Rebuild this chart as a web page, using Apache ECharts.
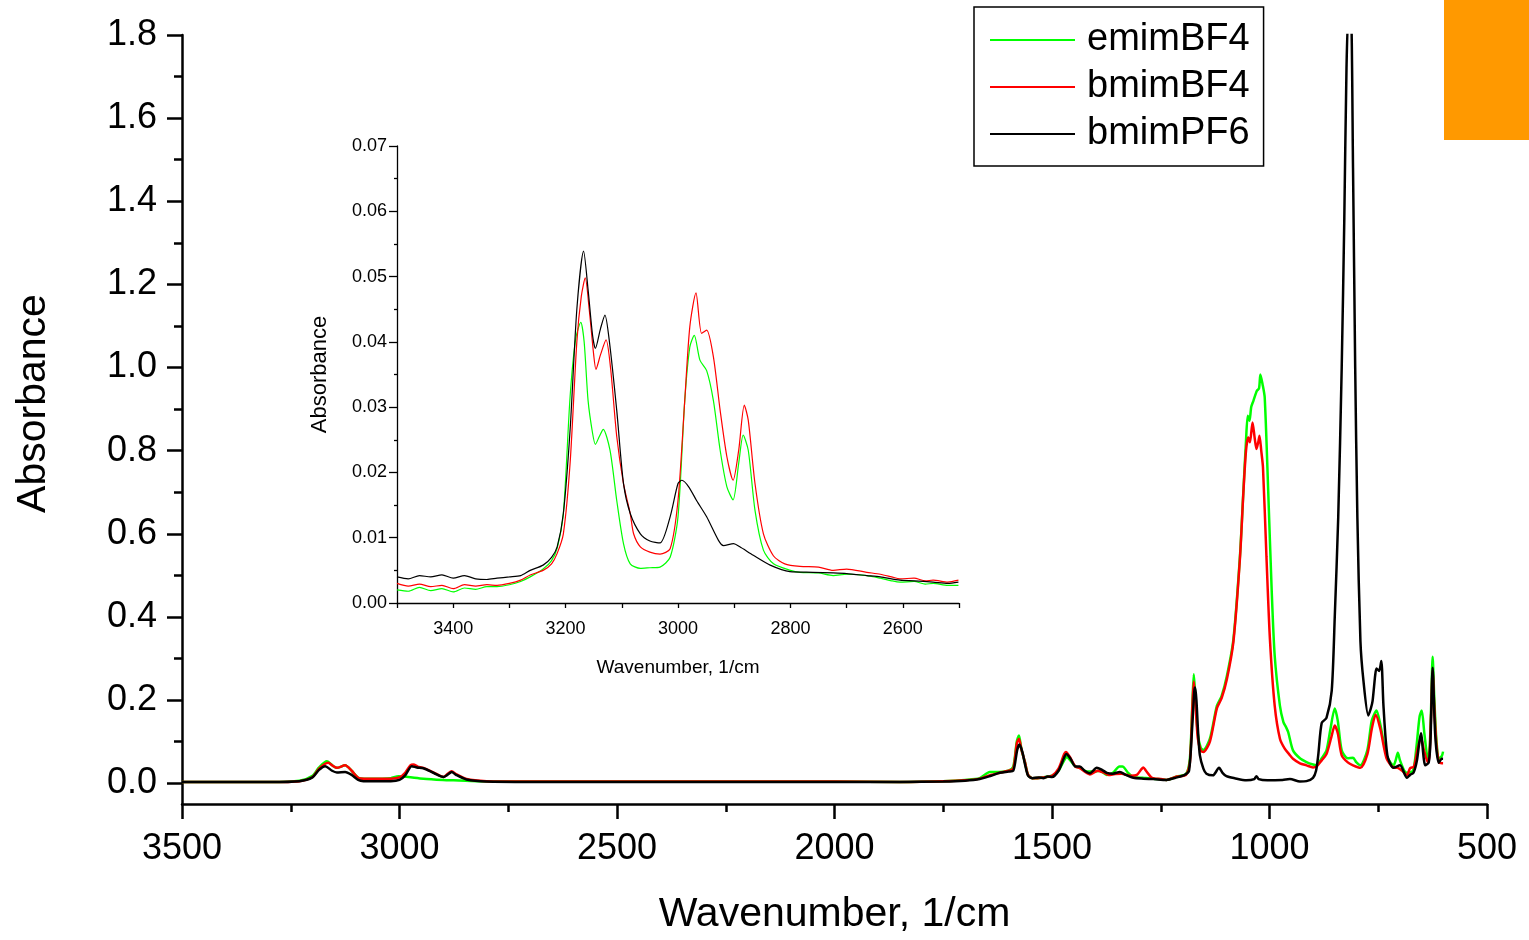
<!DOCTYPE html>
<html>
<head>
<meta charset="utf-8">
<script src="https://cdn.jsdelivr.net/npm/echarts@6/dist/echarts.min.js"></script>
<style>
html,body{margin:0;padding:0;background:#fff;}
#chart{width:1529px;height:940px;}
</style>
</head>
<body>
<div id="chart"></div>
<script>
// ---------- data (wavenumber cm-1, absorbance) ----------
const seriesNames = ['emimBF4', 'bmimBF4', 'bmimPF6'];
const seriesColors = ['#00ff00', '#ff0000', '#000000'];

const mainYTicks = [0, 0.2, 0.4, 0.6, 0.8, 1.0, 1.2, 1.4, 1.6, 1.8];
const mainYMinorTicks = [0.1, 0.3, 0.5, 0.7, 0.9, 1.1, 1.3, 1.5, 1.7];

const emimMain = [
[3500,0.003],[3300,0.003],[3230,0.006],[3200,0.018],[3185,0.038],[3167,0.053],[3152,0.041],[3144,0.037],[3125,0.043],[3110,0.03],[3095,0.013],[3083,0.011],
[3040,0.011],[3020,0.012],[3002,0.017],[2980,0.015],[2945,0.011],[2900,0.008],[2876,0.007],[2820,0.005],[2700,0.004],[2500,0.004],[2200,0.004],[2000,0.004],
[1850,0.003],[1750,0.005],[1700,0.008],[1666,0.012],[1643,0.027],[1620,0.027],[1600,0.03],[1589,0.04],[1581,0.1],[1576,0.115],[1570,0.08],[1562,0.05],
[1555,0.02],[1545,0.012],[1520,0.014],[1500,0.018],[1485,0.03],[1472,0.055],[1466,0.063],[1458,0.055],[1446,0.04],[1436,0.037],[1420,0.028],[1405,0.028],
[1390,0.03],[1374,0.02],[1360,0.025],[1345,0.04],[1338,0.04],[1325,0.025],[1313,0.015],[1290,0.013],[1267,0.011],[1237,0.008],[1213,0.016],[1192,0.022],
[1183,0.06],[1177,0.2],[1174,0.262],[1170,0.2],[1165,0.12],[1158,0.085],[1152,0.08],[1137,0.107],[1121,0.186],[1110,0.21],[1098,0.258],[1083,0.346],
[1068,0.545],[1060,0.704],[1054,0.824],[1050,0.884],[1046,0.872],[1042,0.905],[1037,0.92],[1029,0.944],[1024,0.95],[1021,0.983],[1016,0.96],[1011,0.928],
[1003,0.704],[995,0.465],[988,0.306],[976,0.186],[968,0.147],[962,0.135],[957,0.123],[946,0.079],[930,0.06],[915,0.051],[900,0.045],[892,0.043],
[880,0.06],[869,0.079],[860,0.13],[850,0.18],[843,0.15],[834,0.079],[820,0.06],[808,0.061],[800,0.05],[791,0.043],[775,0.08],[765,0.15],[754,0.175],
[745,0.14],[731,0.067],[715,0.043],[710,0.055],[705,0.073],[700,0.055],[690,0.03],[684,0.025],[670,0.03],[662,0.09],[655,0.16],[650,0.175],[644,0.12],
[636,0.06],[632,0.08],[628,0.2],[625,0.304],[621,0.2],[616,0.1],[610,0.06],[604,0.065],[601,0.076]
];

const bmimBF4Main = [
[3500,0.003],[3300,0.003],[3230,0.005],[3200,0.015],[3185,0.035],[3164,0.049],[3152,0.041],[3144,0.037],[3125,0.043],[3110,0.03],[3095,0.013],[3080,0.011],
[3020,0.011],[3000,0.014],[2987,0.025],[2975,0.043],[2968,0.045],[2958,0.04],[2945,0.037],[2920,0.025],[2899,0.015],[2890,0.022],[2880,0.029],[2870,0.022],
[2846,0.01],[2800,0.005],[2700,0.004],[2500,0.004],[2200,0.004],[2000,0.004],[1850,0.003],[1750,0.005],[1700,0.007],[1666,0.011],[1640,0.02],[1620,0.025],
[1600,0.03],[1589,0.035],[1581,0.095],[1576,0.107],[1570,0.08],[1562,0.05],[1555,0.02],[1545,0.012],[1520,0.014],[1500,0.018],[1485,0.035],[1472,0.07],
[1468,0.075],[1460,0.065],[1446,0.04],[1436,0.036],[1413,0.021],[1395,0.03],[1380,0.025],[1370,0.02],[1355,0.022],[1340,0.023],[1320,0.018],[1305,0.02],
[1295,0.033],[1290,0.038],[1284,0.03],[1270,0.013],[1250,0.01],[1237,0.008],[1213,0.016],[1192,0.02],[1183,0.05],[1177,0.19],[1174,0.245],[1170,0.19],
[1165,0.11],[1158,0.078],[1152,0.075],[1137,0.1],[1121,0.18],[1110,0.205],[1098,0.25],[1083,0.34],[1068,0.54],[1060,0.7],[1054,0.8],[1049,0.832],
[1045,0.82],[1039,0.868],[1034,0.83],[1030,0.804],[1026,0.82],[1023,0.836],[1019,0.8],[1015,0.76],[1007,0.545],[999,0.346],[988,0.186],[976,0.107],
[965,0.083],[955,0.07],[946,0.059],[930,0.048],[915,0.043],[900,0.038],[892,0.04],[880,0.055],[869,0.07],[858,0.11],[850,0.139],[843,0.12],[834,0.067],
[820,0.05],[808,0.043],[791,0.037],[775,0.07],[765,0.13],[756,0.165],[745,0.13],[731,0.06],[715,0.038],[705,0.037],[695,0.03],[684,0.019],[677,0.036],
[668,0.04],[660,0.08],[652,0.11],[645,0.08],[636,0.05],[632,0.07],[628,0.18],[625,0.27],[621,0.18],[616,0.09],[610,0.05],[604,0.048],[601,0.048]
];

const bmimPF6Main = [
[3500,0.003],[3300,0.003],[3230,0.005],[3200,0.014],[3185,0.032],[3171,0.041],[3155,0.03],[3144,0.026],[3125,0.027],[3110,0.02],[3095,0.008],[3083,0.005],
[3020,0.005],[3000,0.008],[2987,0.019],[2972,0.041],[2960,0.038],[2945,0.036],[2920,0.024],[2899,0.015],[2890,0.02],[2880,0.027],[2870,0.02],[2846,0.009],
[2800,0.004],[2700,0.003],[2500,0.003],[2200,0.003],[2000,0.003],[1850,0.003],[1750,0.004],[1700,0.006],[1666,0.01],[1640,0.018],[1620,0.025],[1600,0.028],
[1589,0.03],[1580,0.08],[1575,0.093],[1568,0.075],[1562,0.045],[1555,0.018],[1545,0.012],[1530,0.014],[1520,0.012],[1510,0.016],[1500,0.015],[1485,0.03],
[1472,0.062],[1467,0.07],[1458,0.06],[1446,0.04],[1436,0.04],[1425,0.03],[1413,0.024],[1397,0.037],[1385,0.032],[1374,0.025],[1360,0.023],[1344,0.027],
[1330,0.02],[1313,0.013],[1290,0.011],[1267,0.01],[1237,0.008],[1213,0.014],[1195,0.02],[1185,0.03],[1178,0.13],[1173,0.22],[1171,0.23],[1168,0.2],
[1164,0.12],[1160,0.067],[1152,0.035],[1145,0.023],[1130,0.019],[1116,0.037],[1108,0.025],[1099,0.017],[1080,0.012],[1053,0.007],[1035,0.01],[1030,0.017],
[1025,0.01],[1005,0.007],[970,0.008],[953,0.01],[930,0.004],[915,0.005],[900,0.013],[893,0.03],[888,0.067],[880,0.145],[869,0.157],[857,0.222],[850,0.4],
[842,0.64],[834,1.0],[828,1.36],[823,1.72],[818,1.86],[813,1.86],[808,1.48],[803,1.0],[798,0.64],[791,0.342],[784,0.246],[773,0.163],[767,0.18],
[763,0.198],[757,0.26],[754,0.276],[748,0.27],[743,0.294],[738,0.186],[729,0.067],[715,0.037],[700,0.043],[684,0.013],[677,0.02],[669,0.025],[661,0.055],
[652,0.12],[642,0.043],[634,0.05],[630,0.1],[625,0.278],[619,0.115],[611,0.049],[604,0.059],[601,0.059]
];

// inset (3500-2500 cm-1)
const emimInset = [
[3500,0.002],[3480,0.0018],[3460,0.0024],[3440,0.0019],[3420,0.0022],[3400,0.0017],[3380,0.0023],[3360,0.0021],[3340,0.0025],[3322,0.0025],[3300,0.0028],
[3280,0.0033],[3263,0.004],[3240,0.0052],[3225,0.0065],[3215,0.0084],[3204,0.0137],[3192,0.0316],[3182,0.0405],[3173,0.043],[3167,0.04],[3160,0.031],
[3152,0.026],[3147,0.0243],[3140,0.0255],[3133,0.0266],[3121,0.0234],[3109,0.0157],[3097,0.0091],[3085,0.006],[3067,0.0053],[3050,0.0054],[3032,0.0055],
[3014,0.007],[3000,0.0132],[2988,0.031],[2979,0.0392],[2971,0.041],[2961,0.0372],[2949,0.0356],[2937,0.031],[2925,0.0234],[2913,0.0178],[2902,0.0158],
[2892,0.0214],[2884,0.0257],[2875,0.0234],[2863,0.0142],[2848,0.0081],[2830,0.006],[2800,0.005],[2783,0.0047],[2750,0.0046],[2724,0.0042],[2700,0.0044],
[2664,0.0042],[2640,0.0038],[2620,0.0034],[2605,0.0032],[2580,0.0033],[2560,0.0029],[2546,0.003],[2520,0.0027],[2501,0.0027]
];

const bmimBF4Inset = [
[3500,0.003],[3480,0.0026],[3460,0.0029],[3440,0.0025],[3420,0.0027],[3400,0.0022],[3380,0.0028],[3360,0.0026],[3340,0.0028],[3322,0.0027],[3300,0.003],
[3280,0.0035],[3263,0.0043],[3240,0.005],[3225,0.006],[3215,0.0076],[3204,0.0106],[3192,0.0214],[3180,0.04],[3172,0.047],[3165,0.0498],[3158,0.045],
[3150,0.038],[3146,0.0358],[3138,0.038],[3128,0.0403],[3120,0.036],[3109,0.0255],[3097,0.0183],[3085,0.0137],[3079,0.0106],[3067,0.0086],[3050,0.0078],
[3032,0.0075],[3014,0.0083],[3000,0.0157],[2988,0.031],[2979,0.0423],[2968,0.0475],[2958,0.0413],[2949,0.0418],[2937,0.0377],[2925,0.0295],[2913,0.0224],
[2902,0.0188],[2892,0.0234],[2882,0.0303],[2875,0.028],[2863,0.0183],[2848,0.0106],[2830,0.0072],[2810,0.006],[2783,0.0056],[2750,0.0055],[2724,0.005],
[2700,0.0052],[2664,0.0047],[2640,0.0044],[2620,0.004],[2605,0.0037],[2580,0.0038],[2560,0.0034],[2546,0.0035],[2520,0.0032],[2501,0.0035]
];

const bmimPF6Inset = [
[3500,0.004],[3480,0.0037],[3460,0.0042],[3440,0.004],[3420,0.0043],[3400,0.0038],[3380,0.0042],[3360,0.0037],[3340,0.0036],[3322,0.0038],[3300,0.004],
[3280,0.0042],[3263,0.005],[3240,0.0058],[3225,0.007],[3215,0.0086],[3204,0.0137],[3192,0.0265],[3180,0.045],[3168,0.0539],[3160,0.048],[3152,0.041],
[3147,0.039],[3138,0.042],[3130,0.0441],[3122,0.04],[3109,0.0295],[3097,0.0183],[3085,0.0137],[3067,0.0106],[3050,0.0095],[3032,0.0092],[3014,0.0132],
[3000,0.0183],[2993,0.0188],[2981,0.0178],[2967,0.0157],[2949,0.0132],[2928,0.0096],[2919,0.0088],[2901,0.0091],[2890,0.0086],[2866,0.0073],[2836,0.0058],
[2801,0.0048],[2760,0.0047],[2724,0.0046],[2700,0.0045],[2664,0.0042],[2640,0.004],[2605,0.0035],[2580,0.0034],[2546,0.0032],[2520,0.003],[2501,0.0032]
];

// ---------- chart ----------
const FONT = "'Liberation Sans', Arial, sans-serif";
const chart = echarts.init(document.getElementById('chart'), null, {renderer: 'canvas'});

const mainData = [emimMain, bmimBF4Main, bmimPF6Main];
const insetData = [emimInset, bmimBF4Inset, bmimPF6Inset];

const series = [];
seriesNames.forEach((n, i) => {
  series.push({
    name: n, type: 'line', xAxisIndex: 0, yAxisIndex: 0, data: mainData[i],
    showSymbol: false, smooth: 0.25, lineStyle: {color: seriesColors[i], width: 2.5},
    itemStyle: {color: seriesColors[i]}, z: 3 + i, animation: false
  });
});
seriesNames.forEach((n, i) => {
  series.push({
    name: n, type: 'line', xAxisIndex: 1, yAxisIndex: 2, data: insetData[i],
    showSymbol: false, smooth: 0.25, lineStyle: {color: seriesColors[i], width: 1.2},
    itemStyle: {color: seriesColors[i]}, z: 3 + i, animation: false
  });
});

const option = {
  backgroundColor: '#ffffff',
  animation: false,
  grid: [
    {left: 182, top: 35, width: 1305, height: 773, containLabel: false},
    {left: 397, top: 146, width: 562, height: 457, containLabel: false}
  ],
  legend: {
    data: seriesNames, orient: 'vertical', left: 974, top: 7,
    icon: 'rect', itemWidth: 85, itemHeight: 2, itemGap: 7,
    padding: [13, 14, 12, 16], borderColor: '#000', borderWidth: 1.5,
    selectedMode: false,
    textStyle: {fontFamily: FONT, fontSize: 38, color: '#000', lineHeight: 40, padding: [0, 0, 0, 7]}
  },
  xAxis: [
    {
      type: 'value', gridIndex: 0, min: 500, max: 3500, interval: 500, inverse: true,
      name: 'Wavenumber, 1/cm', nameLocation: 'middle', nameGap: 90,
      nameTextStyle: {fontFamily: FONT, fontSize: 41, color: '#000'},
      axisLine: {show: true, onZero: false, lineStyle: {color: '#000', width: 2.5}},
      axisTick: {show: true, length: 15, lineStyle: {color: '#000', width: 2.5}},
      minorTick: {show: true, splitNumber: 2, length: 8, lineStyle: {color: '#000', width: 2.5}},
      axisLabel: {fontFamily: FONT, fontSize: 36, color: '#000', margin: 27, formatter: v => String(v)},
      splitLine: {show: false}
    },
    {
      type: 'value', gridIndex: 1, min: 2500, max: 3500, interval: 100, inverse: true,
      name: 'Wavenumber, 1/cm', nameLocation: 'middle', nameGap: 55,
      nameTextStyle: {fontFamily: FONT, fontSize: 19, color: '#000'},
      axisLine: {show: true, onZero: false, lineStyle: {color: '#000', width: 1.3}},
      axisTick: {show: true, length: 5, lineStyle: {color: '#000', width: 1.3}},
      axisLabel: {fontFamily: FONT, fontSize: 18, color: '#000', margin: 17,
        formatter: v => (v % 200 === 0 && v !== 2500 && v !== 3500) ? String(v) : ''},
      splitLine: {show: false}
    }
  ],
  yAxis: [
    {
      type: 'value', gridIndex: 0, min: -0.05, max: 1.8, position: 'left',
      name: 'Absorbance', nameLocation: 'middle', nameGap: 128,
      nameTextStyle: {fontFamily: FONT, fontSize: 41, color: '#000', padding: [0, 0, 0, 32]},
      axisLine: {show: true, onZero: false, lineStyle: {color: '#000', width: 2.5}},
      axisTick: {show: true, length: 15, customValues: mainYTicks, lineStyle: {color: '#000', width: 2.5}},
      axisLabel: {fontFamily: FONT, fontSize: 36, color: '#000', margin: 25, customValues: mainYTicks,
        formatter: v => v.toFixed(1)},
      splitLine: {show: false}
    },
    {
      type: 'value', gridIndex: 0, min: -0.05, max: 1.8, position: 'left', offset: 0,
      axisLine: {show: false, onZero: false},
      axisTick: {show: true, length: 8, customValues: mainYMinorTicks, lineStyle: {color: '#000', width: 2.5}},
      axisLabel: {show: false},
      splitLine: {show: false}
    },
    {
      type: 'value', gridIndex: 1, min: 0, max: 0.07, interval: 0.01,
      name: 'Absorbance', nameLocation: 'middle', nameGap: 66,
      nameTextStyle: {fontFamily: FONT, fontSize: 22, color: '#000'},
      axisLine: {show: true, onZero: false, lineStyle: {color: '#000', width: 1.3}},
      axisTick: {show: true, length: 8, lineStyle: {color: '#000', width: 1.3}},
      minorTick: {show: true, splitNumber: 2, length: 3, lineStyle: {color: '#000', width: 1.3}},
      axisLabel: {fontFamily: FONT, fontSize: 18, color: '#000', margin: 10,
        formatter: v => v.toFixed(2)},
      splitLine: {show: false}
    }
  ],
  graphic: [
    {type: 'rect', left: 1444, top: 0, shape: {width: 85, height: 140}, style: {fill: '#ff9900'}, z: 10}
  ],
  series: series
};
chart.setOption(option);
</script>
</body>
</html>
